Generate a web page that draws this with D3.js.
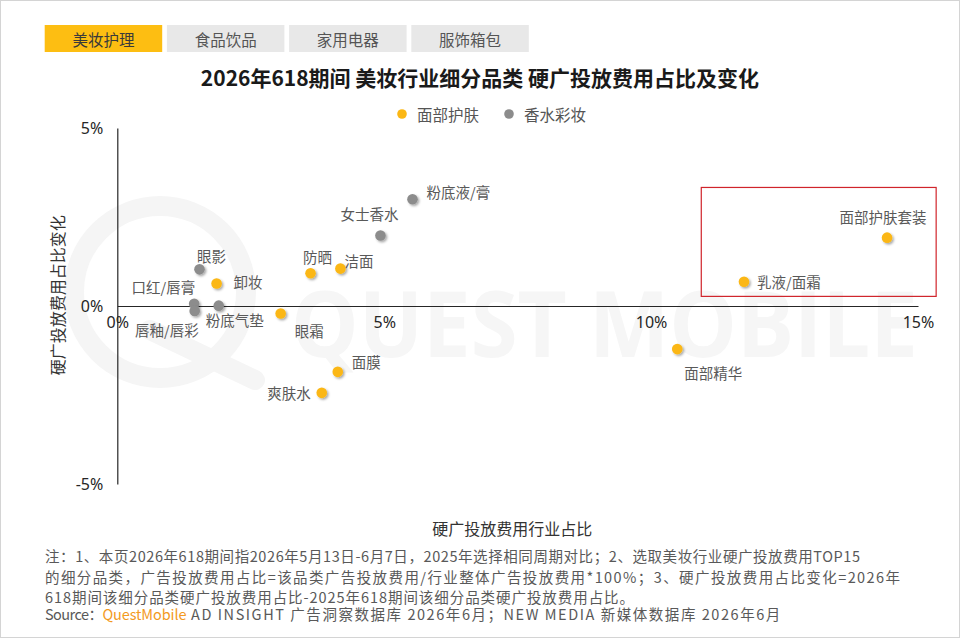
<!DOCTYPE html>
<html>
<head>
<meta charset="utf-8">
<script src="https://cdn.jsdelivr.net/npm/d3@7"></script>
<style>
  html, body { margin: 0; padding: 0; background: #fff; }
  body { width: 960px; height: 638px; overflow: hidden; }
  svg text { font-family: "Noto Sans CJK SC", "Noto Sans", sans-serif; }
</style>
</head>
<body>
<div id="chart"></div>
<script>
// onglets
const tabs = ["美妆护理", "食品饮品", "家用电器", "服饰箱包"];
const activeTab = 0;

// séries : 面部护肤
const faceNames = ["面部护肤套装", "乳液/面霜", "面部精华", "面膜", "爽肤水", "眼霜", "防晒", "洁面", "卸妆"];
const faceShare = [14.42, 11.74, 10.49, 4.13, 3.83, 3.06, 3.62, 4.18, 1.86];
const faceChange = [1.92, 0.68, -1.21, -1.85, -2.44, -0.21, 0.92, 1.05, 0.63];

// séries : 香水彩妆
const makeupNames = ["粉底液/膏", "女士香水", "眼影", "口红/唇膏", "唇釉/唇彩", "粉底气垫"];
const makeupShare = [5.53, 4.93, 1.54, 1.44, 1.45, 1.90];
const makeupChange = [3.00, 1.98, 1.03, 0.06, -0.14, 0.01];

const seriesNames = ["面部护肤", "香水彩妆"];
const xTicks = [0, 5, 10, 15];
const yTicks = [-5, 0, 5];

// zone encadrée (en valeurs)
const boxShare = [10.94, 15.34];
const boxChange = [0.27, 3.33];

const notes = [
  "注：1、本页2026年618期间指2026年5月13日-6月7日，2025年选择相同周期对比；2、选取美妆行业硬广投放费用TOP15",
  "的细分品类，广告投放费用占比=该品类广告投放费用/行业整体广告投放费用*100%；3、硬广投放费用占比变化=2026年",
  "618期间该细分品类硬广投放费用占比-2025年618期间该细分品类硬广投放费用占比。"
];

// placement des étiquettes : [dx, dy, ancrage]
const labelPos = {
  "面部护肤套装": [-4, -21, "middle"],
  "乳液/面霜": [13, 0, "start"],
  "面部精华": [36, 23, "middle"],
  "面膜": [14, -10, "start"],
  "爽肤水": [-11, 0, "end"],
  "眼霜": [14, 17, "start"],
  "防晒": [7, -17, "middle"],
  "洁面": [4, -8, "start"],
  "卸妆": [17, -2, "start"],
  "粉底液/膏": [14, -8, "start"],
  "女士香水": [-11, -22, "middle"],
  "眼影": [12, -14, "middle"],
  "口红/唇膏": [1, -17, "end"],
  "唇釉/唇彩": [4, 19, "end"],
  "粉底气垫": [-13, 14, "start"]
};

const colors = ["#FBB714", "#8C8C8C"];
const W = 960, H = 638;

const svg = d3.select("#chart").append("svg")
  .attr("width", W).attr("height", H);

const defs = svg.append("defs");
defs.append("filter").attr("id", "ombre")
  .attr("x", "-50%").attr("y", "-50%").attr("width", "200%").attr("height", "200%")
  .append("feDropShadow")
  .attr("dx", 1.5).attr("dy", 1.5).attr("stdDeviation", 1)
  .attr("flood-color", "#000").attr("flood-opacity", 0.35);

svg.append("rect")
  .attr("x", 0.5).attr("y", 0.5).attr("width", W - 1).attr("height", H - 1)
  .attr("fill", "#fff").attr("stroke", "#d4d4d4");

// filigrane
const wm = svg.append("g").attr("fill", "none").attr("stroke", "#f5f5f5");
wm.append("circle").attr("cx", 160).attr("cy", 292).attr("r", 86).attr("stroke-width", 20);
wm.append("path").attr("d", "M150,330 L255,380").attr("stroke-width", 20).attr("stroke-linecap", "round");
svg.append("text")
  .attr("x", 291).attr("y", 357)
  .attr("textLength", 627).attr("lengthAdjust", "spacingAndGlyphs")
  .attr("font-size", 92).attr("font-weight", "bold")
  .attr("fill", "#f6f6f6")
  .style("font-family", "'Open Sans', 'DejaVu Sans', sans-serif")
  .text("QUEST MOBILE");

// onglets
const tabG = svg.append("g");
tabs.forEach((t, i) => {
  const g = tabG.append("g").attr("transform", `translate(${44.7 + i * 122.2},25)`);
  g.append("rect").attr("width", 117.5).attr("height", 27)
    .attr("fill", i === activeTab ? "#FDBE12" : "#E8E8E8");
  g.append("text").attr("x", 58.75).attr("y", 13.5)
    .attr("text-anchor", "middle").attr("dominant-baseline", "central")
    .attr("font-size", 15.5).attr("fill", i === activeTab ? "#3a3a3a" : "#555")
    .text(t);
});

// titre
svg.append("text")
  .attr("x", 480).attr("y", 77)
  .attr("text-anchor", "middle").attr("dominant-baseline", "central")
  .attr("font-size", 21).attr("font-weight", "bold").attr("fill", "#1a1a1a")
  .text("2026年618期间 美妆行业细分品类 硬广投放费用占比及变化");

// légende
const legX = [402, 509];
seriesNames.forEach((n, i) => {
  svg.append("circle").attr("cx", legX[i]).attr("cy", 114).attr("r", 4.8).attr("fill", colors[i]);
  svg.append("text").attr("x", legX[i] + 15).attr("y", 114)
    .attr("dominant-baseline", "central").attr("font-size", 15.5).attr("fill", "#555")
    .text(n);
});

const x = d3.scaleLinear().domain([0, 15]).range([117.3, 918]);
const y = d3.scaleLinear().domain([-5, 5]).range([484, 128]);

const fmt = d => d + "%";

const gx = svg.append("g").attr("transform", `translate(0,${y(0)})`)
  .call(d3.axisBottom(x).tickValues(xTicks).tickSize(0).tickPadding(11).tickFormat(fmt));
const gy = svg.append("g").attr("transform", `translate(${x(0)},0)`)
  .call(d3.axisLeft(y).tickValues(yTicks).tickSize(0).tickPadding(14).tickFormat(fmt));

[gx, gy].forEach(g => {
  g.select(".domain").attr("stroke", "#262626").attr("stroke-width", 1.2);
  g.selectAll("text").attr("font-size", 16).attr("fill", "#262626")
    .style("font-family", "'Noto Sans', 'Noto Sans CJK SC', sans-serif");
});

// titres d'axes
svg.append("text")
  .attr("x", x(7.4)).attr("y", 528)
  .attr("text-anchor", "middle").attr("dominant-baseline", "central")
  .attr("font-size", 16).attr("fill", "#333")
  .text("硬广投放费用行业占比");
svg.append("text")
  .attr("transform", `translate(57,${y(0.3)}) rotate(-90)`)
  .attr("text-anchor", "middle").attr("dominant-baseline", "central")
  .attr("font-size", 16).attr("fill", "#333")
  .text("硬广投放费用占比变化");

// cadre rouge
svg.append("rect")
  .attr("x", x(boxShare[0])).attr("y", y(boxChange[1]))
  .attr("width", x(boxShare[1]) - x(boxShare[0]))
  .attr("height", y(boxChange[0]) - y(boxChange[1]))
  .attr("fill", "none").attr("stroke", "#D0242B").attr("stroke-width", 1.2);

// points
const series = [
  { names: faceNames, xs: faceShare, ys: faceChange },
  { names: makeupNames, xs: makeupShare, ys: makeupChange }
];

series.forEach((s, si) => {
  const pts = s.names.map((n, i) => ({ name: n, x: s.xs[i], y: s.ys[i] }));
  const g = svg.append("g");
  g.selectAll("circle").data(pts).join("circle")
    .attr("cx", d => x(d.x)).attr("cy", d => y(d.y)).attr("r", 5.3)
    .attr("fill", colors[si]).attr("filter", "url(#ombre)");
  g.selectAll("text").data(pts).join("text")
    .attr("x", d => x(d.x) + labelPos[d.name][0])
    .attr("y", d => y(d.y) + labelPos[d.name][1])
    .attr("text-anchor", d => labelPos[d.name][2])
    .attr("dominant-baseline", "central")
    .attr("font-size", 14.5).attr("fill", "#595959")
    .text(d => d.name);
});

// notes
const noteY = [555, 576, 596];
const noteW = [815, 855, 589];
notes.forEach((t, i) => {
  svg.append("text").attr("x", 45).attr("y", noteY[i])
    .attr("textLength", noteW[i]).attr("lengthAdjust", "spacing")
    .attr("dominant-baseline", "central").attr("font-size", 14.5).attr("fill", "#595959")
    .text(t);
});
const src = svg.append("text").attr("x", 45).attr("y", 613)
  .attr("dominant-baseline", "central").attr("font-size", 14.5).attr("fill", "#595959");
src.append("tspan").attr("textLength", 58).attr("lengthAdjust", "spacing").text("Source：");
src.append("tspan").attr("fill", "#F39A1E").attr("textLength", 84).attr("lengthAdjust", "spacing").text("QuestMobile");
src.append("tspan").attr("textLength", 594).attr("lengthAdjust", "spacing")
  .text(" AD INSIGHT 广告洞察数据库 2026年6月；NEW MEDIA 新媒体数据库 2026年6月");
</script>
</body>
</html>
